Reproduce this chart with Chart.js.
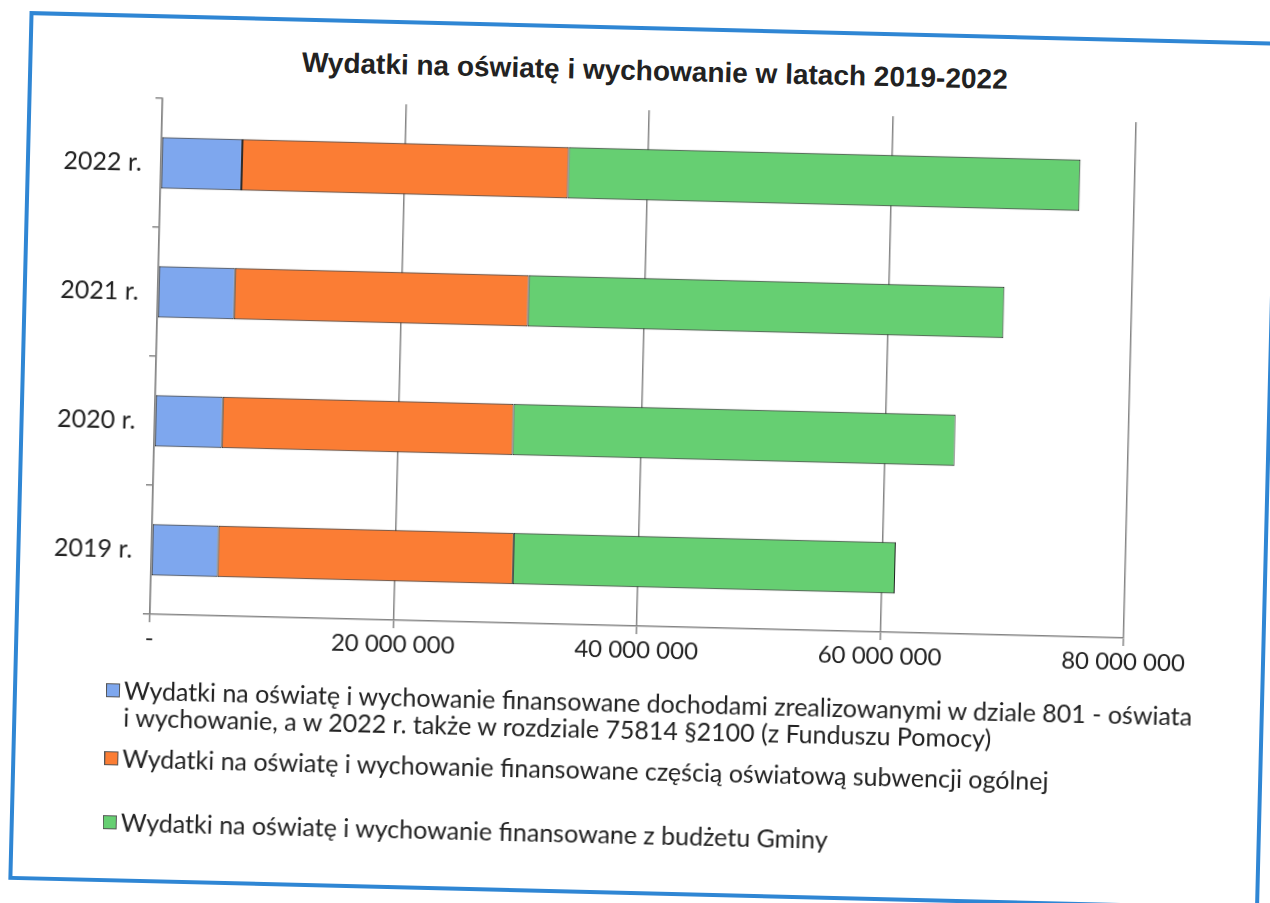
<!DOCTYPE html>
<html>
<head>
<meta charset="utf-8">
<script src="https://cdn.jsdelivr.net/npm/chart.js@4.4.1/dist/chart.umd.min.js"></script>
<style>
  html, body { margin: 0; padding: 0; background: #ffffff; overflow: hidden; }
  #page { position: relative; width: 1270px; height: 903px; transform: rotate(1.4deg); transform-origin: 635px 451.5px; }
  #frame { position: absolute; left: 19px; top: 26px; width: 1251px; height: 869px; box-sizing: border-box; border: 4px solid #2f86d4; }
  #chart { position: absolute; left: 0; top: 0; }
  #title { position: absolute; left: 0; width: 1291px; top: 54px; text-align: center; font: bold 28px "Liberation Sans", Arial, sans-serif; color: #222; line-height: 34px; white-space: nowrap; }
  .lg { position: absolute; left: 112px; font-family: Lato, "Open Sans", sans-serif; font-size: 25px; color: #222; line-height: 27px; white-space: nowrap; }
  .lg .m { position: absolute; left: 0; width: 14px; height: 14px; box-sizing: border-box; border: 1px solid #555; }
  .lg .t { position: absolute; left: 18px; }
</style>
</head>
<body>
<div id="page">
  <div id="frame"></div>
  <div id="title">Wydatki na oświatę i wychowanie w latach 2019-2022</div>
  <canvas id="chart" width="1270" height="903"></canvas>
  <div id="legend"></div>
</div>
<script>
// ---- data ----
const categories = ['2022 r.', '2021 r.', '2020 r.', '2019 r.'];
const seriesNames = [
  ['Wydatki na oświatę i wychowanie finansowane dochodami zrealizowanymi w dziale 801 - oświata', 'i wychowanie, a w 2022 r. także w rozdziale 75814 §2100 (z Funduszu Pomocy)'],
  ['Wydatki na oświatę i wychowanie finansowane częścią oświatową subwencji ogólnej'],
  ['Wydatki na oświatę i wychowanie finansowane z budżetu Gminy']
];
const dochody = [6650000, 6300000, 5560000, 5470000];
const subwencja = [26820000, 24140000, 23890000, 24250000];
const budzetGminy = [42040000, 39080000, 36310000, 31390000];
const tickValues = [0, 20000000, 40000000, 60000000, 80000000];
const tickLabels = ['-', '20 000 000', '40 000 000', '60 000 000', '80 000 000'];

const colors = ['#7ea7ee', '#fb7d34', '#66cf72'];
const seriesValues = [dochody, subwencja, budzetGminy];

// ---- legend (HTML) ----
const legendTops = [689, 757, 821];
const legendEl = document.getElementById('legend');
seriesNames.forEach((lines, i) => {
  const d = document.createElement('div');
  d.className = 'lg';
  d.style.top = legendTops[i] + 'px';
  const m = document.createElement('div');
  m.className = 'm';
  m.style.background = colors[i];
  m.style.top = '7px';
  d.appendChild(m);
  const t = document.createElement('div');
  t.className = 't';
  t.innerHTML = lines.join('<br>');
  d.appendChild(t);
  legendEl.appendChild(d);
});

// ---- chart ----
const datasets = seriesValues.map((vals, i) => ({
  label: seriesNames[i].join(' '),
  data: vals,
  backgroundColor: colors[i],
  borderColor: '#1e1e1e',
  borderWidth: 1,
  borderSkipped: false,
  barPercentage: 0.4,
  categoryPercentage: 1.0
}));

new Chart(document.getElementById('chart'), {
  type: 'bar',
  data: { labels: categories, datasets },
  options: {
    responsive: false,
    animation: false,
    indexAxis: 'y',
    layout: { padding: { top: 110, right: 142, left: 0, bottom: 0 } },
    plugins: { legend: { display: false }, title: { display: false }, tooltip: { enabled: false } },
    scales: {
      x: {
        stacked: true,
        min: 0,
        max: 80000000,
        afterBuildTicks: (s) => { s.ticks = tickValues.map(v => ({ value: v })); },
        afterFit: (s) => { s.height = 903 - 110 - 516; },
        ticks: {
          callback: (v) => tickLabels[tickValues.indexOf(v)],
          font: { family: 'Lato, "Open Sans", sans-serif', size: 24 },
          color: '#222',
          padding: 2,
          maxRotation: 0,
          autoSkip: false
        },
        grid: { color: '#858585', lineWidth: 1.5, drawTicks: true, tickLength: 8 },
        border: { display: true, color: '#858585', width: 1.5 }
      },
      y: {
        stacked: true,
        afterFit: (s) => { s.width = 154; },
        ticks: {
          font: { family: 'Lato, "Open Sans", sans-serif', size: 25 },
          color: '#222',
          padding: 12
        },
        grid: { display: true, drawOnChartArea: false, drawTicks: true, tickLength: 7, offset: true, color: '#858585', lineWidth: 1.5 },
        border: { display: true, color: '#858585', width: 1.5 }
      }
    }
  }
});
</script>
</body>
</html>
